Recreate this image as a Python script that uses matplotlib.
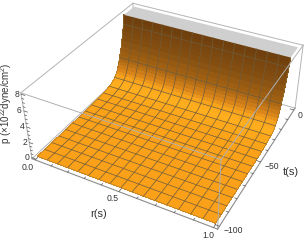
import numpy as np
import matplotlib
matplotlib.use("Agg")
import matplotlib.pyplot as plt
from mpl_toolkits.mplot3d import proj3d

plt.rcParams["font.family"] = ["Liberation Sans", "DejaVu Sans"]
plt.rcParams["mathtext.fontset"] = "custom"
plt.rcParams["mathtext.rm"] = "Liberation Sans"

# pressure read along t (it does not change with r)
t_vals = [-100, -93.75, -87.5, -81.25, -75, -68.75, -62.5, -56.25, -50, -43.75, -37.5, -31.25,
          -29.5, -28, -26.5, -25, -23.5, -22, -21, -20, -19.3, -18.75, -18, -17, -16, -15, -14.2,
          -13.5, -13, -12.5, -12, -11.46]
p_vals = [0.02, 0.02, 0.025, 0.03, 0.035, 0.04, 0.05, 0.06, 0.09, 0.13, 0.22, 0.4,
          0.48, 0.58, 0.72, 0.9, 1.18, 1.55, 1.9, 2.3, 2.65, 3.0, 3.3, 3.7, 4.3, 5.0, 5.6,
          6.1, 6.5, 6.9, 7.4, 8]
r_vals = [0, 0.0625, 0.125, 0.1875, 0.25, 0.3125, 0.375, 0.4375, 0.5, 0.5625, 0.625, 0.6875,
          0.75, 0.8125, 0.875, 0.9375, 1]
t_mesh = [-93.75, -87.5, -81.25, -75, -68.75, -62.5, -56.25, -50, -43.75, -37.5, -31.25,
          -25, -18.75, -12.5]

r_ticks = [0, 0.1, 0.2, 0.3, 0.4, 0.5, 0.6, 0.7, 0.8, 0.9, 1]
t_ticks = [-100, -90, -80, -70, -60, -50, -40, -30, -20, -10, 0]
p_ticks = [0, 0.5, 1, 1.5, 2, 2.5, 3, 3.5, 4, 4.5, 5, 5.5, 6, 6.5, 7, 7.5, 8]
r_labels = {0: "0.0", 0.5: "0.5", 1: "1.0"}
t_labels = {-100: "\u2212100", -50: "\u221250", 0: "0"}
p_labels = {0: "0", 2: "2", 4: "4", 6: "6", 8: "8"}

rlim = (-0.02, 1.02)
tlim = (-102, 2)
plim = (-0.16, 8.16)

W, H = 307, 241
fig = plt.figure(figsize=(W / 100, H / 100), dpi=100)
ax = fig.add_axes([22.75 / W, -6.95 / H, 285.9 / W, 285.9 / H], projection="3d", computed_zorder=False)
ax.set_axis_off()
ax.set_xlim(*rlim)
ax.set_ylim(*tlim)
ax.set_zlim(*plim)
ax.set_box_aspect((1, 0.9962, 0.3937))
ax.view_init(elev=35.6, azim=-61.52, roll=0.52)
ax.set_proj_type("persp", focal_length=0.4244)
ax.patch.set_alpha(0)


def line3(x, y, z, **kw):
    ax.plot(x, y, z, clip_on=False, **kw)


# back box edges
back = dict(color="#b4b4b4", lw=0.7, zorder=1)
line3([rlim[0], rlim[0]], [tlim[0], tlim[1]], [plim[1], plim[1]], **back)
line3([rlim[0], rlim[1]], [tlim[1], tlim[1]], [plim[1], plim[1]], **back)
line3([rlim[0], rlim[1]], [tlim[1], tlim[1]], [plim[0], plim[0]], **back)
line3([rlim[0], rlim[0]], [tlim[1], tlim[1]], [plim[0], plim[1]], **back)
line3([rlim[1], rlim[1]], [tlim[1], tlim[1]], [plim[0], plim[1]], **back)
line3([rlim[0], rlim[0]], [tlim[0], tlim[1]], [plim[0], plim[0]], **back)

# surface, coloured by height like the lit Mathematica surface
p_stops = [0, 0.15, 0.5, 1, 1.8, 3, 5, 8]
red = [250, 252, 255, 250, 215, 165, 135, 108]
green = [160, 163, 175, 165, 130, 100, 80, 62]
blue = [25, 25, 30, 28, 25, 20, 17, 12]

T, R = np.meshgrid(t_vals, r_vals, indexing="ij")
P = np.tile(np.array(p_vals)[:, None], (1, len(r_vals)))
mid = (P[:-1, :-1] + P[1:, 1:]) / 2
cols = np.dstack([np.interp(mid, p_stops, red), np.interp(mid, p_stops, green),
                  np.interp(mid, p_stops, blue), np.full(mid.shape, 255)]) / 255
ax.plot_surface(R, T, P, facecolors=cols, shade=False, rstride=1, cstride=1, linewidth=0,
                antialiased=False, zorder=2)

# clipped top of the surface
Rc, Tc = np.meshgrid([r_vals[0], r_vals[-1]], [t_vals[-1], 0])
ax.plot_surface(Rc, Tc, np.full(Rc.shape, p_vals[-1]), color="#cfcfcf", shade=False, linewidth=0, zorder=2)

# mesh lines
mesh = dict(color="#6e5c3c", lw=0.5, zorder=3)
for r in r_vals[1:-1]:
    line3(np.full(len(t_vals), r), t_vals, p_vals, **mesh)
for t in t_mesh:
    line3(r_vals, np.full(len(r_vals), t), np.full(len(r_vals), p_vals[t_vals.index(t)]), **mesh)
edge = dict(color="#9a7436", lw=0.4, zorder=3)
line3(r_vals, np.full(len(r_vals), t_vals[0]), np.full(len(r_vals), p_vals[0]), **edge)
line3(np.full(len(t_vals), 1), t_vals, p_vals, **edge)
line3(np.full(len(t_vals), 0), t_vals, p_vals, **edge)

# front box edges
front = dict(color="#b0b0b0", lw=0.7, zorder=4)
line3([rlim[0], rlim[1]], [tlim[0], tlim[0]], [plim[1], plim[1]], **front)
line3([rlim[1], rlim[1]], [tlim[0], tlim[1]], [plim[1], plim[1]], **front)
line3([rlim[1], rlim[1]], [tlim[0], tlim[0]], [plim[0], plim[1]], **front)
line3([rlim[0], rlim[0]], [tlim[0], tlim[0]], [plim[0], plim[1]], **front)
axis = dict(color="#8c8c8c", lw=0.8, zorder=4)
line3([rlim[0], rlim[1]], [tlim[0], tlim[0]], [plim[0], plim[0]], **axis)
line3([rlim[1], rlim[1]], [tlim[0], tlim[1]], [plim[0], plim[0]], **axis)

# ticks
tick = dict(color="#555555", lw=0.5, zorder=5)
for v in r_ticks:
    n = 2.2 if v in r_labels else 1.2
    line3([v, v], [tlim[0], tlim[0] + n], [plim[0], plim[0]], **tick)
for v in t_ticks:
    n = 0.022 if v in t_labels else 0.012
    line3([rlim[1], rlim[1] - n], [v, v], [plim[0], plim[0]], **tick)
for v in p_ticks:
    n = 0.022 if v in p_labels else 0.012
    line3([rlim[0], rlim[0] + n], [tlim[0], tlim[0]], [v, v], **tick)

M = ax.get_proj()


def tick_label(x, y, z, s, dx, dy):
    X, Y, _ = proj3d.proj_transform(x, y, z, M)
    ax.annotate(s, xy=(X, Y), xytext=(dx, dy), textcoords="offset pixels", ha="center", va="center",
                fontsize=6.2, color="#333333", annotation_clip=False)


for v, dx, dy in zip(r_labels, [-7, -6, -5], [-8, -7, -8]):
    tick_label(v, tlim[0], plim[0], r_labels[v], dx, dy)
for v, dx, dy in zip(t_labels, [14, 11, 6], [-4, -5, -5]):
    tick_label(rlim[1], v, plim[0], t_labels[v], dx, dy)
for v in p_labels:
    tick_label(rlim[0], tlim[0], v, p_labels[v], -4.5, 0)

fig.text(99 / W, 1 - 214 / H, "r(s)", ha="center", va="center", fontsize=8, color="#333333")
fig.text(291 / W, 1 - 172 / H, "t(s)", ha="center", va="center", fontsize=8, color="#333333")
fig.text(6.5 / W, 1 - 103 / H, "p ($\\times$10$^{22}$dyne/cm$^{2}$)", rotation=90, ha="center", va="center",
         fontsize=7, color="#333333")

fig.savefig("out.png", dpi=100)
